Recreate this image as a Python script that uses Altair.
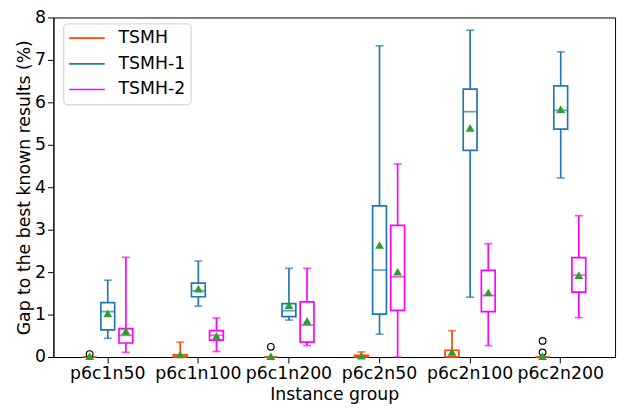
import altair as alt
import pandas as pd

groups = ["p6c1n50", "p6c1n100", "p6c1n200", "p6c2n50", "p6c2n100", "p6c2n200"]
series = ["TSMH", "TSMH-1", "TSMH-2"]
colors = ["#ff4500", "#1f77b4", "#ff00ff"]

# box statistics per series (one value per group)
tsmh_lo = [0.0, 0.0, 0.0, 0.0, 0.0, 0.0]
tsmh_q1 = [0.0, 0.0, 0.0, 0.0, 0.0, 0.0]
tsmh_med = [0.0, 0.0, 0.0, 0.0, 0.0, 0.0]
tsmh_q3 = [0.0, 0.05, 0.0, 0.04, 0.16, 0.0]
tsmh_hi = [0.0, 0.35, 0.0, 0.12, 0.62, 0.0]
tsmh_mean = [0.02, 0.06, 0.02, 0.03, 0.12, 0.02]

tsmh1_lo = [0.44, 1.20, 0.87, 0.54, 1.41, 4.22]
tsmh1_q1 = [0.64, 1.42, 0.95, 1.01, 4.87, 5.37]
tsmh1_med = [1.07, 1.56, 1.09, 2.05, 5.78, 5.81]
tsmh1_q3 = [1.28, 1.74, 1.26, 3.56, 6.31, 6.39]
tsmh1_hi = [1.81, 2.26, 2.09, 7.33, 7.70, 7.19]
tsmh1_mean = [1.03, 1.61, 1.22, 2.64, 5.40, 5.84]

tsmh2_lo = [0.11, 0.13, 0.27, 0.0, 0.27, 0.93]
tsmh2_q1 = [0.33, 0.40, 0.35, 1.10, 1.07, 1.53]
tsmh2_med = [0.51, 0.51, 0.75, 1.89, 1.45, 1.93]
tsmh2_q3 = [0.67, 0.62, 1.30, 3.10, 2.04, 2.34]
tsmh2_hi = [2.35, 0.92, 2.09, 4.55, 2.67, 3.33]
tsmh2_mean = [0.61, 0.50, 0.85, 2.01, 1.52, 1.93]

outlier_group = ["p6c1n50", "p6c1n200", "p6c2n200", "p6c2n200"]
outlier_series = ["TSMH", "TSMH", "TSMH", "TSMH"]
outlier_value = [0.07, 0.24, 0.38, 0.11]

stats = {
    "TSMH": (tsmh_lo, tsmh_q1, tsmh_med, tsmh_q3, tsmh_hi, tsmh_mean),
    "TSMH-1": (tsmh1_lo, tsmh1_q1, tsmh1_med, tsmh1_q3, tsmh1_hi, tsmh1_mean),
    "TSMH-2": (tsmh2_lo, tsmh2_q1, tsmh2_med, tsmh2_q3, tsmh2_hi, tsmh2_mean),
}
rows = []
for s in series:
    lo, q1, med, q3, hi, mean = stats[s]
    for i, g in enumerate(groups):
        rows.append(dict(group=g, series=s, lo=lo[i], q1=q1[i], med=med[i],
                         q3=q3[i], hi=hi[i], mean=mean[i]))
df = pd.DataFrame(rows)
out_df = pd.DataFrame(dict(group=outlier_group, series=outlier_series, value=outlier_value))

FONT = "DejaVu Sans"
FS = 17.5
LW = 1.7

x_enc = alt.X("group:N", sort=groups,
              scale=alt.Scale(type="band", domain=groups, paddingInner=0, paddingOuter=0.1),
              axis=alt.Axis(title="Instance group", labelAngle=0))
xo_enc = alt.XOffset("series:N", sort=series,
                     scale=alt.Scale(type="band", domain=series, paddingInner=0, paddingOuter=1))
y_scale = alt.Scale(domain=[0, 8], nice=False, zero=True)
color_scale = alt.Scale(domain=series, range=colors)
col = alt.Color("series:N", scale=color_scale, sort=series)

base = alt.Chart(df).encode(x=x_enc, xOffset=xo_enc)

box = base.mark_bar(size=14, filled=False, strokeWidth=LW).encode(
    y=alt.Y("q1:Q", scale=y_scale,
            axis=alt.Axis(title="Gap to the best known results (%)", values=list(range(9)))),
    y2="q3:Q",
    color=alt.Color("series:N", scale=color_scale, sort=series,
                    legend=alt.Legend(title=None, orient="none", legendX=10, legendY=6,
                                      symbolType="stroke", symbolSize=1296,
                                      symbolStrokeWidth=LW, labelFontSize=FS,
                                      labelFont=FONT, labelColor="black",
                                      labelOffset=13, rowPadding=6, clipHeight=20,
                                      padding=5, strokeColor="#cccccc",
                                      fillColor="white", cornerRadius=4)),
)
whisk_low = base.mark_rule(strokeWidth=LW).encode(
    y=alt.Y("lo:Q", scale=y_scale), y2="q1:Q", color=col,
)
whisk_high = base.mark_rule(strokeWidth=LW).encode(
    y=alt.Y("q3:Q", scale=y_scale), y2="hi:Q", color=col,
)
cap_low = base.mark_tick(size=8, thickness=LW).encode(
    y=alt.Y("lo:Q", scale=y_scale), color=col,
)
cap_high = base.mark_tick(size=8, thickness=LW).encode(
    y=alt.Y("hi:Q", scale=y_scale), color=col,
)
median = base.mark_tick(size=14, thickness=LW).encode(
    y=alt.Y("med:Q", scale=y_scale), color=col,
)
mean = base.mark_point(shape="triangle-up", filled=True, color="#2ca02c", size=80, opacity=1).encode(
    y=alt.Y("mean:Q", scale=y_scale),
)
outliers = alt.Chart(out_df).mark_point(shape="circle", filled=False, color="black",
                                        size=45, strokeWidth=1.2, opacity=1).encode(
    x=x_enc, xOffset=xo_enc, y=alt.Y("value:Q", scale=y_scale),
)

chart = alt.layer(
    box, whisk_low, whisk_high, cap_low, cap_high, median, outliers, mean
).properties(
    width=569, height=344,
    autosize=alt.AutoSizeParams(type="none"),
    padding={"left": 46, "top": 7, "right": 5, "bottom": 45},
).configure_view(
    stroke="black", strokeWidth=1
).configure_axis(
    labelFont=FONT, titleFont=FONT, labelFontSize=FS, titleFontSize=FS,
    labelColor="black", titleColor="black", domainColor="black", tickColor="black",
    tickSize=6, grid=False, titleFontWeight="normal", domainWidth=1,
).configure_axisY(
    titlePadding=1,
).configure_axisX(
    titlePadding=4,
)

chart.save("out.html", embed_options={"renderer": "svg", "actions": False})
